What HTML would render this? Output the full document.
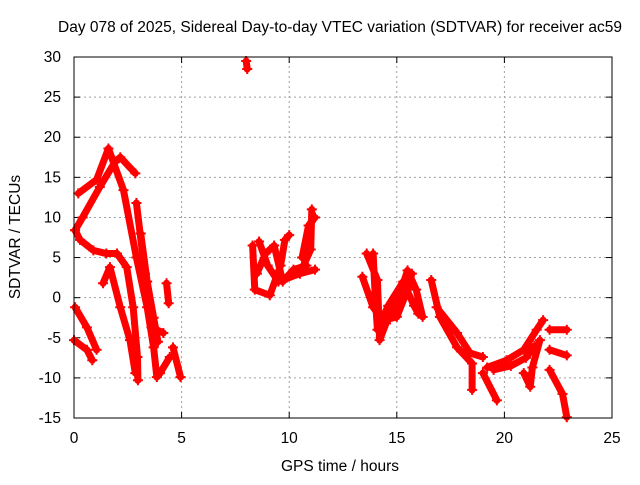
<!DOCTYPE html>
<html><head><meta charset="utf-8"><style>
html,body{margin:0;padding:0;background:#fff;}
svg text{font-family:"Liberation Sans",sans-serif;font-size:15.5px;fill:#000;}
</style></head><body>
<svg width="640" height="480" xmlns="http://www.w3.org/2000/svg">
<rect width="640" height="480" fill="#fff"/>
<text x="340" y="32" text-anchor="middle">Day 078 of 2025, Sidereal Day-to-day VTEC variation (SDTVAR) for receiver ac59</text>
<text x="340" y="471" text-anchor="middle">GPS time / hours</text>
<text transform="translate(20,237) rotate(-90)" text-anchor="middle">SDTVAR / TECUs</text>
<g id="grid"></g>
<g id="ticks"></g>
<g id="marks"></g>
<rect x="74" y="57" width="538" height="361" fill="none" stroke="#000" stroke-width="1"/>
</svg>
<script>
const xTicks=[0,5,10,15,20,25];
const yTicks=[-15,-10,-5,0,5,10,15,20,25,30];
const trackA=[[0.05,8.4],[0.4,10],[1.2,13.8],[1.9,16.9],[2.15,17.5],[2.85,15.5]];
const trackB=[[0.2,13],[1.05,14.7],[1.6,18.6],[2.3,13.4],[2.9,5],[3.4,-1.2],[3.7,-6.2],[3.85,-9.9],[4.0,-9.4],[4.45,-7.4]];
const trackC=[[0.05,8.4],[0.28,7.2],[0.9,5.9],[1.5,5.5],[2.0,5.5],[2.45,3.8],[2.75,-1.2],[2.95,-7.4],[2.97,-10.3]];
const trackD=[[1.35,1.8],[1.67,3.8],[2.15,-1.2],[2.6,-5.3],[2.85,-9.4]];
const trackE=[[0.05,-1.2],[0.6,-3.7],[1.05,-6.5]];
const trackF=[[0,-5.3],[0.6,-6.5],[0.85,-7.8]];
const trackG=[[2.9,11.8],[3.3,3],[3.6,-3.7],[4.15,-4.4]];
const trackG2=[[3.1,8],[3.4,2],[3.7,-2.5],[3.9,-5.5]];
const trackH=[[4.3,1.8],[4.4,-0.7]];
const trackI=[[4.6,-6.2],[4.95,-9.9]];
const trackT=[[8.0,29.5],[8.05,28.5]];
const trackU=[[8.3,6.5],[8.4,1],[9.1,0.3],[9.6,4],[9.8,7.2],[10,7.8]];
const trackV=[[8.6,7],[9.0,4],[9.5,2],[10.5,3],[11.2,3.5]];
const trackV2=[[8.5,3],[8.9,5.5],[9.3,6.5],[9.7,2],[10.2,3.5],[10.8,4]];
const trackW=[[10.5,3],[11,6],[11.05,11]];
const trackW2=[[10.6,5],[10.9,9],[11.2,10]];
const trackJ=[[13.6,5.5],[14.1,2.2],[14.2,-5.3],[14.5,-3.2],[15.1,0.1],[15.5,3.4],[15.9,1],[16.2,-2.4]];
const trackK=[[13.4,2.6],[13.9,-1.2],[14.4,-2.8],[15.0,-2.4],[15.5,1],[15.7,3]];
const trackK2=[[13.9,5.5],[14.0,0],[14.1,-4],[14.6,-1],[15.3,2],[15.8,-1],[16.0,-2]];
const trackL=[[16.6,2.2],[17.0,-2.4],[17.8,-6.2],[18.5,-8.2],[18.5,-11.5]];
const trackM=[[16.85,-1.2],[17.8,-4.4],[18.4,-6.9],[19,-7.4]];
const trackN=[[19,-9.4],[19.65,-12.8]];
const trackO=[[19.2,-8.7],[20.1,-7.8],[20.9,-6.5],[21.5,-4],[21.8,-2.8]];
const trackO2=[[19.5,-9],[20.3,-8.5],[21.0,-7.5],[21.4,-6]];
const trackP=[[20.9,-9.4],[21.2,-11.1],[21.3,-8.7],[21.65,-5.3]];
const trackQ=[[22.1,-6.5],[22.9,-7.2]];
const trackR=[[22.1,-9],[22.7,-12],[22.9,-14.9]];
const trackS=[[22.1,-4],[22.9,-4]];
const tracks=[trackA,trackB,trackC,trackD,trackE,trackF,trackG,trackG2,trackH,trackI,trackT,trackU,trackV,trackV2,trackW,trackW2,trackJ,trackK,trackK2,trackL,trackM,trackN,trackO,trackO2,trackP,trackQ,trackR,trackS];

const NS="http://www.w3.org/2000/svg";
const X0=74,X1=612,Y0=418,Y1=57;
function sx(t){return X0+(t-0)/(25-0)*(X1-X0);}
function sy(v){return Y0-(v-(-15))/(30-(-15))*(Y0-Y1);}
function mk(tag,attrs,parent){const e=document.createElementNS(NS,tag);for(const k in attrs)e.setAttribute(k,attrs[k]);parent.appendChild(e);return e;}
const grid=document.getElementById('grid'),ticks=document.getElementById('ticks'),marks=document.getElementById('marks');
xTicks.forEach(t=>{const x=sx(t);
 if(t>0&&t<25){const g=mk('line',{x1:x,x2:x,y1:Y0,y2:Y1,stroke:'#a0a0a0','stroke-dasharray':'2,3'},grid);
 
 }
 const a=mk('line',{x1:x,x2:x,y1:Y0,y2:Y0-6,stroke:'#000'},ticks);
 
 
 const b=mk('line',{x1:x,x2:x,y1:Y1,y2:Y1+6,stroke:'#000'},ticks);
 
 
 const l=mk('text',{x:x,y:443,'text-anchor':'middle'},ticks);l.textContent=t;
 
 
});
yTicks.forEach(v=>{const y=sy(v);
 if(v>-15&&v<30){const g=mk('line',{x1:X0,x2:X1,y1:y,y2:y,stroke:'#a0a0a0','stroke-dasharray':'2,3'},grid);
 
 }
 const a=mk('line',{x1:X0,x2:X0+6,y1:y,y2:y,stroke:'#000'},ticks);
 
 
 const b=mk('line',{x1:X1,x2:X1-6,y1:y,y2:y,stroke:'#000'},ticks);
 
 
 const l=mk('text',{x:61,y:y+5,'text-anchor':'end'},ticks);l.textContent=v;
 
 
});
tracks.forEach(tr=>{
 const p=mk('polyline',{points:tr.map(d=>sx(d[0])+','+sy(d[1])).join(' '),fill:'none',stroke:'#f00','stroke-width':7,'stroke-linejoin':'round','stroke-linecap':'round'},marks);
 
 
 tr.forEach(d=>{const x=sx(d[0]),y=sy(d[1]);
  const m=mk('path',{d:`M${x-5},${y}H${x+5}M${x},${y-5}V${y+5}`,stroke:'#f00','stroke-width':2},marks);
  
  
 });
});
</script>
</body></html>
